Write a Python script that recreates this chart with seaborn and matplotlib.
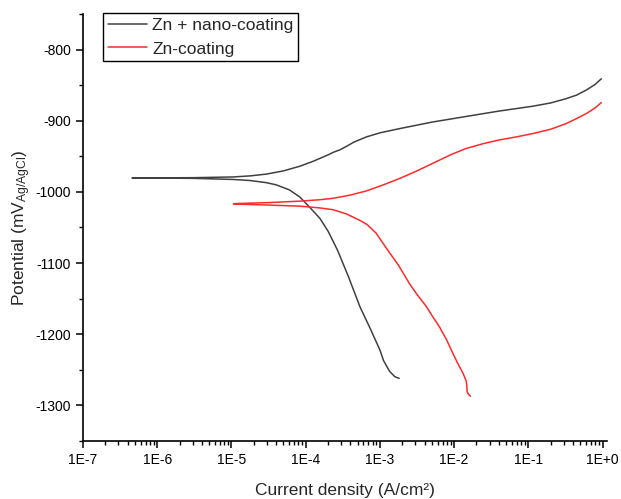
import matplotlib
matplotlib.use("Agg")
import matplotlib.pyplot as plt
from matplotlib.ticker import LogLocator, FixedLocator, MultipleLocator, NullFormatter
import seaborn as sns
import pandas as pd

# ---- data (current density A/cm^2, potential mV vs Ag/AgCl) ----
nano_i = [1.82e-3, 1.585e-3, 1.35e-3, 1.12e-3, 1.0e-3, 7.41e-4, 5.37e-4, 3.80e-4,
          2.69e-4, 2.0e-4, 1.55e-4, 1.12e-4, 8.3e-5, 6.0e-5, 3.98e-5, 2.95e-5,
          1.78e-5, 1.05e-5, 3.16e-6, 1.0e-6, 4.57e-7,
          1.0e-6, 3.16e-6, 1.05e-5, 1.78e-5, 2.95e-5, 5.0e-5, 8.3e-5, 1.26e-4,
          2.0e-4, 2.4e-4, 2.88e-4, 3.55e-4, 4.47e-4, 6.6e-4, 1.0e-3, 1.86e-3,
          5.0e-3, 1.45e-2, 3.98e-2, 0.115, 0.2, 0.324, 0.447, 0.603, 0.794, 0.964]
nano_E = [-1262, -1259.5, -1252, -1237, -1222, -1192, -1161, -1120,
          -1082, -1055, -1037, -1021, -1007, -997, -990, -987,
          -984, -982.5, -981, -980.5, -980.5,
          -980.3, -980, -979, -977.5, -975, -970.5, -964, -957,
          -948, -944, -941, -936, -930, -922.7, -917, -911,
          -902, -894, -886.5, -879.6, -875, -869, -864, -857, -849, -841]

zn_i = [1.66e-2, 1.585e-2, 1.50e-2, 1.48e-2, 1.46e-2, 1.32e-2, 1.12e-2, 9.64e-3,
        7.94e-3, 6.38e-3, 5.13e-3, 4.22e-3, 3.16e-3, 2.51e-3, 1.78e-3, 1.26e-3,
        8.9e-4, 6.76e-4, 5.37e-4, 3.55e-4, 2.34e-4, 1.55e-4, 8.3e-5, 3.16e-5, 1.07e-5,
        1.07e-5, 3.16e-5, 8.3e-5, 1.55e-4, 2.34e-4, 3.98e-4, 6.6e-4, 1.12e-3,
        1.86e-3, 3.16e-3, 5.13e-3, 8.9e-3, 1.45e-2, 2.51e-2, 4.07e-2, 7.08e-2,
        0.115, 0.2, 0.324, 0.447, 0.603, 0.794, 0.964]
zn_E = [-1287, -1285, -1281, -1272, -1266, -1255, -1241, -1227,
        -1208, -1190, -1175, -1161, -1144, -1129, -1103, -1081,
        -1058, -1046, -1040, -1031, -1025, -1022.5, -1020, -1018.5, -1017,
        -1016.5, -1015, -1013, -1011, -1009, -1004.5, -998.6, -990,
        -981, -970.5, -960, -948, -939, -932, -927, -922.5,
        -918, -912, -904, -897, -890, -882, -874.5]

series_names = ["Zn + nano-coating", "Zn-coating"]
x_tick_labels = ["1E-7", "1E-6", "1E-5", "1E-4", "1E-3", "1E-2", "1E-1", "1E+0"]
y_ticks = [-800, -900, -1000, -1100, -1200, -1300]

df = pd.concat([
    pd.DataFrame({"i": nano_i, "E": nano_E, "sample": series_names[0]}),
    pd.DataFrame({"i": zn_i, "E": zn_E, "sample": series_names[1]}),
], ignore_index=True)

sns.set_theme(style="ticks")
plt.rcParams["font.family"] = ["Liberation Sans", "DejaVu Sans"]
plt.rcParams["mathtext.default"] = "regular"
plt.rcParams["axes.unicode_minus"] = False

fig = plt.figure(figsize=(6.21, 4.99), dpi=100)
ax = fig.add_axes([0.1337, 0.1162, 0.8438, 0.8558])

sns.lineplot(data=df, x="i", y="E", hue="sample", sort=False, estimator=None,
             palette={series_names[0]: "#404040", series_names[1]: "#ff2a2a"},
             linewidth=1.1, ax=ax)

ax.set_xscale("log")
ax.set_xlim(1e-7, 1.15)
ax.set_ylim(-1350, -750)

ax.xaxis.set_major_locator(FixedLocator([10.0 ** k for k in range(-7, 1)]))
ax.set_xticklabels(x_tick_labels)
ax.xaxis.set_minor_locator(LogLocator(base=10, subs=range(2, 10), numticks=50))
ax.xaxis.set_minor_formatter(NullFormatter())
ax.set_yticks(y_ticks)
ax.yaxis.set_minor_locator(MultipleLocator(50))

ax.tick_params(which="major", direction="out", length=5, width=1.1, labelsize=10,
               colors="black")
ax.tick_params(which="minor", direction="out", length=3, width=1.0, colors="black")
for s in ["top", "right"]:
    ax.spines[s].set_visible(False)
for s in ["left", "bottom"]:
    ax.spines[s].set_linewidth(1.2)
    ax.spines[s].set_color("black")

ax.set_xlabel("Current density (A/cm²)", fontsize=12.5, labelpad=12)
ax.set_ylabel(r"Potential (mV$_{Ag/AgCl}$)", fontsize=12.5, labelpad=2)

leg = ax.legend(loc="upper left", bbox_to_anchor=(0.038, 1.003), fontsize=12.5,
                frameon=True, fancybox=False, edgecolor="black", framealpha=1,
                handlelength=2.25, handletextpad=0.3, borderpad=0.28,
                labelspacing=0.5, borderaxespad=0, title=None)
leg.get_frame().set_linewidth(1.0)
for line in leg.get_lines():
    line.set_linewidth(1.1)

fig.savefig("out.png", dpi=100)
